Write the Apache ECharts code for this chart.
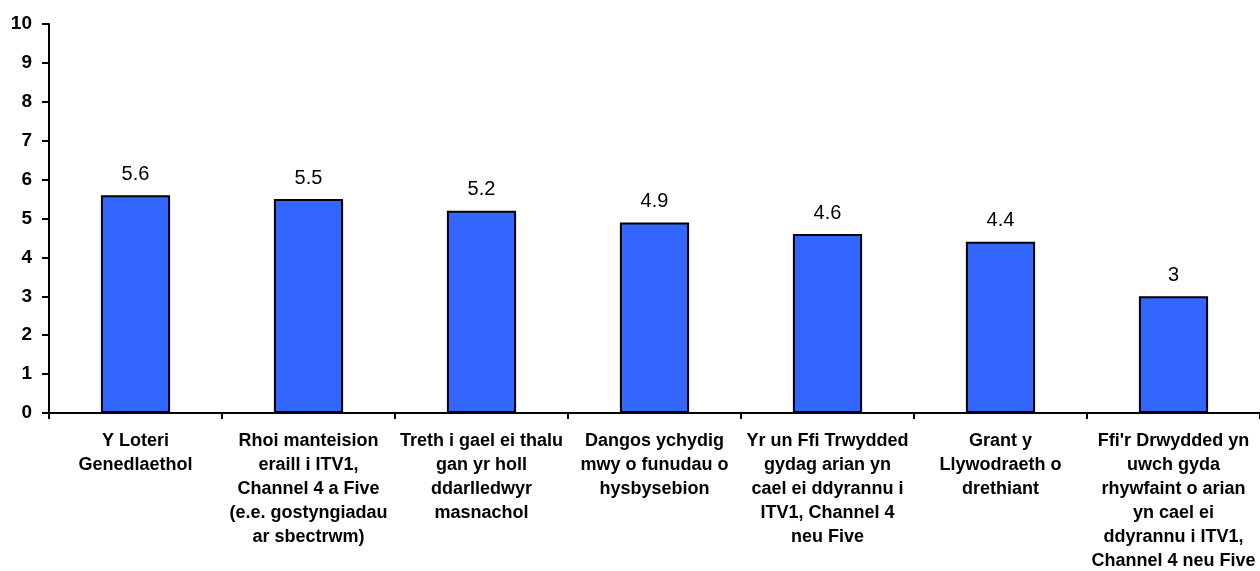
<!DOCTYPE html>
<html>
<head>
<meta charset="utf-8">
<script src="https://cdn.jsdelivr.net/npm/echarts@6/dist/echarts.min.js"></script>
<style>
  html, body { margin: 0; padding: 0; background: #fff; }
  #chart { width: 1260px; height: 571px; }
</style>
</head>
<body>
<div id="chart"></div>
<script>
// categories (line breaks as in the original)
const categories = [
    'Y Loteri\nGenedlaethol',
    'Rhoi manteision\neraill i ITV1,\nChannel 4 a Five\n(e.e. gostyngiadau\nar sbectrwm)',
    'Treth i gael ei thalu\ngan yr holl\nddarlledwyr\nmasnachol',
    'Dangos ychydig\nmwy o funudau o\nhysbysebion',
    'Yr un Ffi Trwydded\ngydag arian yn\ncael ei ddyrannu i\nITV1, Channel 4\nneu Five',
    'Grant y\nLlywodraeth o\ndrethiant',
    "Ffi'r Drwydded yn\nuwch gyda\nrhywfaint o arian\nyn cael ei\nddyrannu i ITV1,\nChannel 4 neu Five"
]
const scores = [5.6, 5.5, 5.2, 4.9, 4.6, 4.4, 3]

const chart = echarts.init(document.getElementById('chart'))

const option = {
    animation: false,
    textStyle: { fontFamily: 'Liberation Sans, Arial, sans-serif' },
    // keep the plot where it is even though the last label runs to the edge
    grid: { left: 49, right: 0, top: 24, bottom: 158, outerBoundsMode: 'none' },
    xAxis: {
        type: 'category',
        data: categories,
        axisLine: { lineStyle: { color: '#000', width: 2 } },
        axisTick: { show: true, alignWithLabel: false, length: 6, lineStyle: { color: '#000', width: 2 } },
        axisLabel: {
            interval: 0,
            margin: 16,
            color: '#000',
            fontWeight: 'bold',
            fontSize: 18,
            lineHeight: 24,
            align: 'center'
        }
    },
    yAxis: {
        type: 'value',
        min: 0,
        max: 10,
        interval: 1,
        splitLine: { show: false },
        axisLine: { show: true, lineStyle: { color: '#000', width: 2 } },
        axisTick: { show: true, length: 7, lineStyle: { color: '#000', width: 2 } },
        axisLabel: {
            margin: 17,
            color: '#000',
            fontWeight: 'bold',
            fontSize: 19
        }
    },
    series: [
        {
            type: 'bar',
            data: scores,
            barWidth: '40%',
            itemStyle: {
                color: '#3366FF',
                borderColor: '#000',
                borderWidth: 2
            },
            label: {
                show: true,
                position: 'top',
                distance: 11,
                color: '#000',
                fontSize: 20
            }
        }
    ]
}

chart.setOption(option)
</script>
</body>
</html>
